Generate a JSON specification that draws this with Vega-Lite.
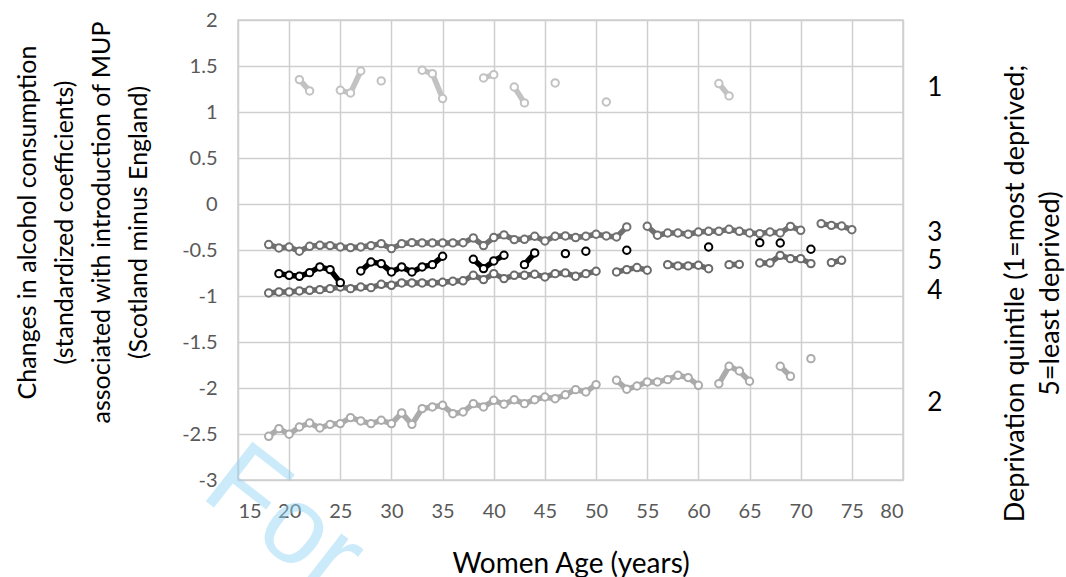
{
  "$schema": "https://vega.github.io/schema/vega-lite/v6.json",
  "width": 665,
  "height": 460,
  "autosize": "none",
  "padding": {"left": 238, "top": 20, "right": 163, "bottom": 97},
  "background": "white",
  "config": {
    "font": "Lato",
    "view": {"stroke": "#cfcfcf", "strokeWidth": 1.5}
  },
  "datasets": {
    "quintiles": [
      {"q": "1", "run": "1a", "age": 21, "v": 1.352},
      {"q": "1", "run": "1a", "age": 22, "v": 1.229},
      {"q": "1", "run": "1b", "age": 25, "v": 1.236},
      {"q": "1", "run": "1b", "age": 26, "v": 1.207},
      {"q": "1", "run": "1b", "age": 27, "v": 1.446},
      {"q": "1", "run": "1c", "age": 29, "v": 1.338},
      {"q": "1", "run": "1d", "age": 33, "v": 1.454},
      {"q": "1", "run": "1d", "age": 34, "v": 1.417},
      {"q": "1", "run": "1d", "age": 35, "v": 1.146},
      {"q": "1", "run": "1e", "age": 39, "v": 1.370},
      {"q": "1", "run": "1e", "age": 40, "v": 1.406},
      {"q": "1", "run": "1f", "age": 42, "v": 1.272},
      {"q": "1", "run": "1f", "age": 43, "v": 1.099},
      {"q": "1", "run": "1g", "age": 46, "v": 1.316},
      {"q": "1", "run": "1h", "age": 51, "v": 1.109},
      {"q": "1", "run": "1i", "age": 62, "v": 1.309},
      {"q": "1", "run": "1i", "age": 63, "v": 1.175},

      {"q": "2", "run": "2a", "age": 18, "v": -2.525},
      {"q": "2", "run": "2a", "age": 19, "v": -2.442},
      {"q": "2", "run": "2a", "age": 20, "v": -2.503},
      {"q": "2", "run": "2a", "age": 21, "v": -2.424},
      {"q": "2", "run": "2a", "age": 22, "v": -2.380},
      {"q": "2", "run": "2a", "age": 23, "v": -2.435},
      {"q": "2", "run": "2a", "age": 24, "v": -2.395},
      {"q": "2", "run": "2a", "age": 25, "v": -2.387},
      {"q": "2", "run": "2a", "age": 26, "v": -2.322},
      {"q": "2", "run": "2a", "age": 27, "v": -2.358},
      {"q": "2", "run": "2a", "age": 28, "v": -2.387},
      {"q": "2", "run": "2a", "age": 29, "v": -2.351},
      {"q": "2", "run": "2a", "age": 30, "v": -2.387},
      {"q": "2", "run": "2a", "age": 31, "v": -2.271},
      {"q": "2", "run": "2a", "age": 32, "v": -2.395},
      {"q": "2", "run": "2a", "age": 33, "v": -2.224},
      {"q": "2", "run": "2a", "age": 34, "v": -2.206},
      {"q": "2", "run": "2a", "age": 35, "v": -2.188},
      {"q": "2", "run": "2a", "age": 36, "v": -2.279},
      {"q": "2", "run": "2a", "age": 37, "v": -2.261},
      {"q": "2", "run": "2a", "age": 38, "v": -2.170},
      {"q": "2", "run": "2a", "age": 39, "v": -2.206},
      {"q": "2", "run": "2a", "age": 40, "v": -2.134},
      {"q": "2", "run": "2a", "age": 41, "v": -2.177},
      {"q": "2", "run": "2a", "age": 42, "v": -2.127},
      {"q": "2", "run": "2a", "age": 43, "v": -2.170},
      {"q": "2", "run": "2a", "age": 44, "v": -2.127},
      {"q": "2", "run": "2a", "age": 45, "v": -2.098},
      {"q": "2", "run": "2a", "age": 46, "v": -2.116},
      {"q": "2", "run": "2a", "age": 47, "v": -2.074},
      {"q": "2", "run": "2a", "age": 48, "v": -2.018},
      {"q": "2", "run": "2a", "age": 49, "v": -2.043},
      {"q": "2", "run": "2a", "age": 50, "v": -1.963},
      {"q": "2", "run": "2b", "age": 52, "v": -1.916},
      {"q": "2", "run": "2b", "age": 53, "v": -2.014},
      {"q": "2", "run": "2b", "age": 54, "v": -1.978},
      {"q": "2", "run": "2b", "age": 55, "v": -1.934},
      {"q": "2", "run": "2b", "age": 56, "v": -1.934},
      {"q": "2", "run": "2b", "age": 57, "v": -1.909},
      {"q": "2", "run": "2b", "age": 58, "v": -1.862},
      {"q": "2", "run": "2b", "age": 59, "v": -1.887},
      {"q": "2", "run": "2b", "age": 60, "v": -1.971},
      {"q": "2", "run": "2c", "age": 62, "v": -1.953},
      {"q": "2", "run": "2c", "age": 63, "v": -1.764},
      {"q": "2", "run": "2c", "age": 64, "v": -1.815},
      {"q": "2", "run": "2c", "age": 65, "v": -1.927},
      {"q": "2", "run": "2d", "age": 68, "v": -1.764},
      {"q": "2", "run": "2d", "age": 69, "v": -1.873},
      {"q": "2", "run": "2e", "age": 71, "v": -1.681},

      {"q": "3", "run": "3a", "age": 18, "v": -0.441},
      {"q": "3", "run": "3a", "age": 19, "v": -0.478},
      {"q": "3", "run": "3a", "age": 20, "v": -0.467},
      {"q": "3", "run": "3a", "age": 21, "v": -0.514},
      {"q": "3", "run": "3a", "age": 22, "v": -0.460},
      {"q": "3", "run": "3a", "age": 23, "v": -0.449},
      {"q": "3", "run": "3a", "age": 24, "v": -0.452},
      {"q": "3", "run": "3a", "age": 25, "v": -0.467},
      {"q": "3", "run": "3a", "age": 26, "v": -0.474},
      {"q": "3", "run": "3a", "age": 27, "v": -0.467},
      {"q": "3", "run": "3a", "age": 28, "v": -0.452},
      {"q": "3", "run": "3a", "age": 29, "v": -0.431},
      {"q": "3", "run": "3a", "age": 30, "v": -0.485},
      {"q": "3", "run": "3a", "age": 31, "v": -0.431},
      {"q": "3", "run": "3a", "age": 32, "v": -0.420},
      {"q": "3", "run": "3a", "age": 33, "v": -0.423},
      {"q": "3", "run": "3a", "age": 34, "v": -0.423},
      {"q": "3", "run": "3a", "age": 35, "v": -0.423},
      {"q": "3", "run": "3a", "age": 36, "v": -0.423},
      {"q": "3", "run": "3a", "age": 37, "v": -0.421},
      {"q": "3", "run": "3a", "age": 38, "v": -0.369},
      {"q": "3", "run": "3a", "age": 39, "v": -0.452},
      {"q": "3", "run": "3a", "age": 40, "v": -0.365},
      {"q": "3", "run": "3a", "age": 41, "v": -0.336},
      {"q": "3", "run": "3a", "age": 42, "v": -0.387},
      {"q": "3", "run": "3a", "age": 43, "v": -0.384},
      {"q": "3", "run": "3a", "age": 44, "v": -0.351},
      {"q": "3", "run": "3a", "age": 45, "v": -0.402},
      {"q": "3", "run": "3a", "age": 46, "v": -0.351},
      {"q": "3", "run": "3a", "age": 47, "v": -0.347},
      {"q": "3", "run": "3a", "age": 48, "v": -0.365},
      {"q": "3", "run": "3a", "age": 49, "v": -0.351},
      {"q": "3", "run": "3a", "age": 50, "v": -0.329},
      {"q": "3", "run": "3a", "age": 51, "v": -0.347},
      {"q": "3", "run": "3a", "age": 52, "v": -0.358},
      {"q": "3", "run": "3a", "age": 53, "v": -0.249},
      {"q": "3", "run": "3b", "age": 55, "v": -0.242},
      {"q": "3", "run": "3b", "age": 56, "v": -0.340},
      {"q": "3", "run": "3b", "age": 57, "v": -0.315},
      {"q": "3", "run": "3b", "age": 58, "v": -0.315},
      {"q": "3", "run": "3b", "age": 59, "v": -0.329},
      {"q": "3", "run": "3b", "age": 60, "v": -0.304},
      {"q": "3", "run": "3b", "age": 61, "v": -0.297},
      {"q": "3", "run": "3b", "age": 62, "v": -0.297},
      {"q": "3", "run": "3b", "age": 63, "v": -0.275},
      {"q": "3", "run": "3b", "age": 64, "v": -0.297},
      {"q": "3", "run": "3b", "age": 65, "v": -0.315},
      {"q": "3", "run": "3b", "age": 66, "v": -0.322},
      {"q": "3", "run": "3b", "age": 67, "v": -0.304},
      {"q": "3", "run": "3b", "age": 68, "v": -0.315},
      {"q": "3", "run": "3b", "age": 69, "v": -0.243},
      {"q": "3", "run": "3b", "age": 70, "v": -0.286},
      {"q": "3", "run": "3c", "age": 72, "v": -0.213},
      {"q": "3", "run": "3c", "age": 73, "v": -0.232},
      {"q": "3", "run": "3c", "age": 74, "v": -0.239},
      {"q": "3", "run": "3c", "age": 75, "v": -0.279},

      {"q": "4", "run": "4a", "age": 18, "v": -0.967},
      {"q": "4", "run": "4a", "age": 19, "v": -0.956},
      {"q": "4", "run": "4a", "age": 20, "v": -0.956},
      {"q": "4", "run": "4a", "age": 21, "v": -0.945},
      {"q": "4", "run": "4a", "age": 22, "v": -0.938},
      {"q": "4", "run": "4a", "age": 23, "v": -0.931},
      {"q": "4", "run": "4a", "age": 24, "v": -0.920},
      {"q": "4", "run": "4a", "age": 25, "v": -0.902},
      {"q": "4", "run": "4a", "age": 26, "v": -0.920},
      {"q": "4", "run": "4a", "age": 27, "v": -0.902},
      {"q": "4", "run": "4a", "age": 28, "v": -0.909},
      {"q": "4", "run": "4a", "age": 29, "v": -0.873},
      {"q": "4", "run": "4a", "age": 30, "v": -0.884},
      {"q": "4", "run": "4a", "age": 31, "v": -0.858},
      {"q": "4", "run": "4a", "age": 32, "v": -0.858},
      {"q": "4", "run": "4a", "age": 33, "v": -0.858},
      {"q": "4", "run": "4a", "age": 34, "v": -0.858},
      {"q": "4", "run": "4a", "age": 35, "v": -0.851},
      {"q": "4", "run": "4a", "age": 36, "v": -0.840},
      {"q": "4", "run": "4a", "age": 37, "v": -0.835},
      {"q": "4", "run": "4a", "age": 38, "v": -0.775},
      {"q": "4", "run": "4a", "age": 39, "v": -0.822},
      {"q": "4", "run": "4a", "age": 40, "v": -0.757},
      {"q": "4", "run": "4a", "age": 41, "v": -0.811},
      {"q": "4", "run": "4a", "age": 42, "v": -0.775},
      {"q": "4", "run": "4a", "age": 43, "v": -0.775},
      {"q": "4", "run": "4a", "age": 44, "v": -0.764},
      {"q": "4", "run": "4a", "age": 45, "v": -0.793},
      {"q": "4", "run": "4a", "age": 46, "v": -0.757},
      {"q": "4", "run": "4a", "age": 47, "v": -0.749},
      {"q": "4", "run": "4a", "age": 48, "v": -0.786},
      {"q": "4", "run": "4a", "age": 49, "v": -0.757},
      {"q": "4", "run": "4a", "age": 50, "v": -0.731},
      {"q": "4", "run": "4b", "age": 52, "v": -0.739},
      {"q": "4", "run": "4b", "age": 53, "v": -0.713},
      {"q": "4", "run": "4b", "age": 54, "v": -0.691},
      {"q": "4", "run": "4b", "age": 55, "v": -0.720},
      {"q": "4", "run": "4c", "age": 57, "v": -0.659},
      {"q": "4", "run": "4c", "age": 58, "v": -0.673},
      {"q": "4", "run": "4c", "age": 59, "v": -0.673},
      {"q": "4", "run": "4c", "age": 60, "v": -0.666},
      {"q": "4", "run": "4c", "age": 61, "v": -0.703},
      {"q": "4", "run": "4d", "age": 63, "v": -0.659},
      {"q": "4", "run": "4d", "age": 64, "v": -0.656},
      {"q": "4", "run": "4e", "age": 66, "v": -0.641},
      {"q": "4", "run": "4e", "age": 67, "v": -0.641},
      {"q": "4", "run": "4e", "age": 68, "v": -0.558},
      {"q": "4", "run": "4e", "age": 69, "v": -0.594},
      {"q": "4", "run": "4e", "age": 70, "v": -0.594},
      {"q": "4", "run": "4e", "age": 71, "v": -0.648},
      {"q": "4", "run": "4f", "age": 73, "v": -0.637},
      {"q": "4", "run": "4f", "age": 74, "v": -0.612},

      {"q": "5", "run": "5a", "age": 19, "v": -0.757},
      {"q": "5", "run": "5a", "age": 20, "v": -0.775},
      {"q": "5", "run": "5a", "age": 21, "v": -0.786},
      {"q": "5", "run": "5a", "age": 22, "v": -0.746},
      {"q": "5", "run": "5a", "age": 23, "v": -0.684},
      {"q": "5", "run": "5a", "age": 24, "v": -0.713},
      {"q": "5", "run": "5a", "age": 25, "v": -0.855},
      {"q": "5", "run": "5b", "age": 27, "v": -0.728},
      {"q": "5", "run": "5b", "age": 28, "v": -0.630},
      {"q": "5", "run": "5b", "age": 29, "v": -0.648},
      {"q": "5", "run": "5b", "age": 30, "v": -0.739},
      {"q": "5", "run": "5b", "age": 31, "v": -0.684},
      {"q": "5", "run": "5b", "age": 32, "v": -0.739},
      {"q": "5", "run": "5b", "age": 33, "v": -0.684},
      {"q": "5", "run": "5b", "age": 34, "v": -0.659},
      {"q": "5", "run": "5b", "age": 35, "v": -0.568},
      {"q": "5", "run": "5c", "age": 38, "v": -0.601},
      {"q": "5", "run": "5c", "age": 39, "v": -0.702},
      {"q": "5", "run": "5c", "age": 40, "v": -0.619},
      {"q": "5", "run": "5c", "age": 41, "v": -0.557},
      {"q": "5", "run": "5d", "age": 43, "v": -0.659},
      {"q": "5", "run": "5d", "age": 44, "v": -0.532},
      {"q": "5", "run": "5e", "age": 47, "v": -0.539},
      {"q": "5", "run": "5f", "age": 49, "v": -0.514},
      {"q": "5", "run": "5g", "age": 53, "v": -0.503},
      {"q": "5", "run": "5h", "age": 61, "v": -0.467},
      {"q": "5", "run": "5i", "age": 66, "v": -0.420},
      {"q": "5", "run": "5j", "age": 68, "v": -0.424},
      {"q": "5", "run": "5k", "age": 71, "v": -0.492}
    ],
    "seriesLabels": [
      {"q": "1", "age": 83.1, "v": 1.26},
      {"q": "3", "age": 83.1, "v": -0.32},
      {"q": "5", "age": 83.1, "v": -0.62},
      {"q": "4", "age": 83.1, "v": -0.95},
      {"q": "2", "age": 83.1, "v": -2.16}
    ]
  },
  "layer": [
    {
      "encoding": {
        "x": {
          "field": "age", "type": "quantitative",
          "scale": {"domain": [15, 80], "nice": false, "zero": false},
          "axis": {
            "values": [15, 20, 25, 30, 35, 40, 45, 50, 55, 60, 65, 70, 75, 80],
            "title": "Women Age (years)",
            "grid": true, "gridColor": "#cfcfcf", "gridWidth": 1.5,
            "domain": false, "ticks": false, "tickSize": 0,
            "labelFontSize": 20, "labelColor": "#595959", "labelPadding": 21,
            "titleFontSize": 28, "titleFontWeight": "normal", "titleColor": "black", "titlePadding": 29
          }
        },
        "y": {
          "field": "v", "type": "quantitative",
          "scale": {"domain": [-3, 2], "nice": false, "zero": false},
          "axis": {
            "orient": "left",
            "values": [-3, -2.5, -2, -1.5, -1, -0.5, 0, 0.5, 1, 1.5, 2],
            "labelExpr": "datum.value + ''",
            "title": ["Changes in alcohol consumption", "(standardized coefficients)", "associated with introduction of MUP", "(Scotland minus England)"],
            "grid": true, "gridColor": "#cfcfcf", "gridWidth": 1.5,
            "domain": false, "ticks": false, "tickSize": 0,
            "labelFontSize": 20, "labelColor": "#595959", "labelPadding": 21,
            "titleFontSize": 25, "titleFontWeight": "normal", "titleColor": "black",
            "titleLineHeight": 37, "titlePadding": 30, "titleY": 202
          }
        }
      },
      "layer": [
        {
          "data": {"values": [{"txt": "For", "age": 19.5, "v": -3.44}]},
          "mark": {"type": "text", "fontSize": 110, "angle": 38, "align": "center", "baseline": "middle", "fill": "#8fd3f5", "opacity": 0.45, "font": "Liberation Sans"},
          "encoding": {"text": {"field": "txt"}}
        },
        {
          "data": {"name": "quintiles"},
          "mark": {"type": "line", "strokeWidth": 5.5, "strokeCap": "butt", "strokeJoin": "round"},
          "encoding": {
            "detail": {"field": "run"},
            "color": {
              "field": "q", "type": "nominal",
              "scale": {"domain": ["1", "2", "3", "4", "5"], "range": ["#c2c2c2", "#ababab", "#707070", "#6a6a6a", "#000000"]},
              "legend": null
            }
          }
        },
        {
          "data": {"name": "quintiles"},
          "mark": {"type": "point", "shape": "circle", "filled": false, "fill": "white", "fillOpacity": 1, "opacity": 1, "size": 55, "strokeWidth": 2},
          "encoding": {
            "color": {
              "field": "q", "type": "nominal",
              "scale": {"domain": ["1", "2", "3", "4", "5"], "range": ["#c2c2c2", "#ababab", "#707070", "#6a6a6a", "#000000"]},
              "legend": null
            }
          }
        }
      ]
    },
    {
      "data": {"name": "seriesLabels"},
      "mark": {"type": "text", "fontSize": 26, "align": "center", "baseline": "middle", "color": "black"},
      "encoding": {
        "x": {"field": "age", "type": "quantitative", "scale": {"domain": [15, 80], "nice": false, "zero": false}},
        "y": {
          "field": "v", "type": "quantitative",
          "scale": {"domain": [-3, 2], "nice": false, "zero": false},
          "axis": {
            "orient": "right",
            "title": ["Deprivation quintile (1=most deprived;", "5=least deprived)"],
            "labels": false, "ticks": false, "domain": false, "grid": false, "labelPadding": 0,
            "titleAngle": 270, "titleBaseline": "top", "titleFontSize": 27, "titleFontWeight": "normal",
            "titleColor": "black", "titleLineHeight": 35, "titlePadding": 64, "titleY": 273
          }
        },
        "text": {"field": "q"}
      }
    }
  ],
  "resolve": {"scale": {"y": "independent"}, "axis": {"y": "independent"}}
}
